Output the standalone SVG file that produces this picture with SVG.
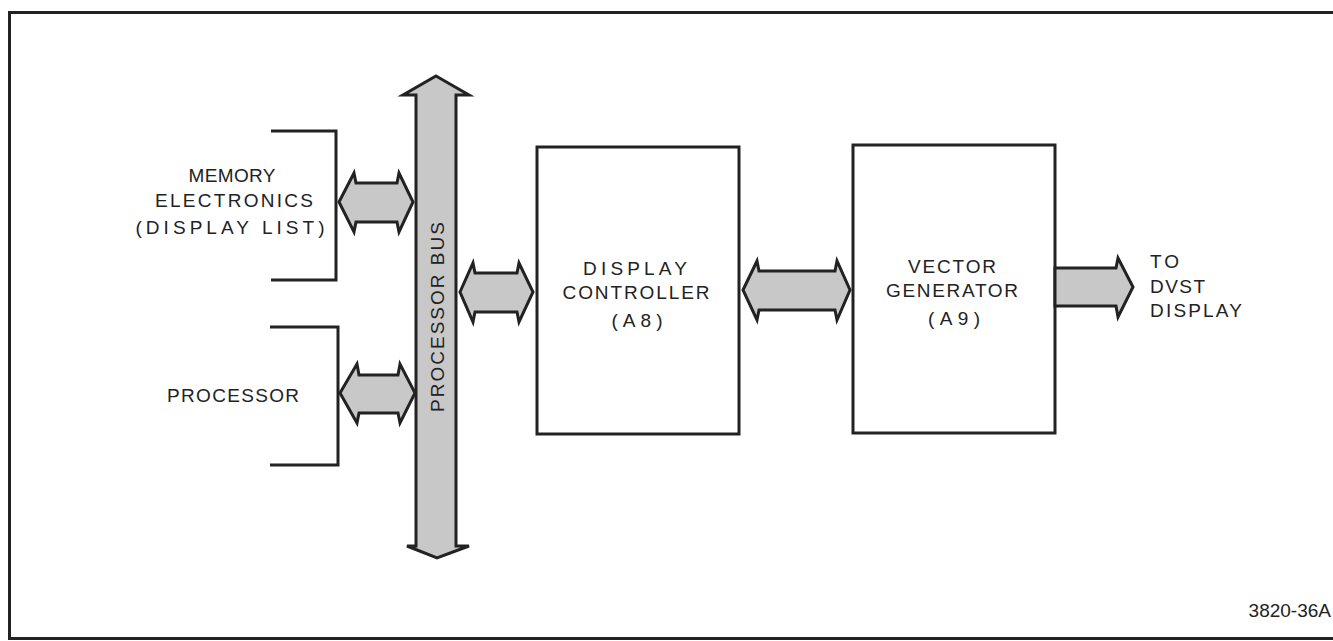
<svg xmlns="http://www.w3.org/2000/svg" width="1333" height="641" viewBox="0 0 1333 641">
<style>
.ln{fill:none;stroke:#222;stroke-width:3;stroke-linejoin:miter}
.box{fill:#fff;stroke:#222;stroke-width:3}
.ar{fill:#c8c8c8;stroke:#222;stroke-width:3;stroke-linejoin:miter}
.t{font-family:"Liberation Sans",Arial,sans-serif;font-size:19px;fill:#222}
.h{font-family:"Liberation Sans",Arial,sans-serif;font-size:19px;fill:#222}
.m{text-anchor:middle}
</style>
<rect x="9.5" y="12.5" width="1340" height="626" class="ln"/>
<g id="memory">
<polyline class="ln" points="271,131 336,131 336,280 271,280"/>
<text class="t m" x="232" y="182" textLength="87" lengthAdjust="spacing">MEMORY</text>
<text class="t m" x="234" y="207" textLength="158" lengthAdjust="spacing">ELECTRONICS</text>
<text class="t m" x="230" y="234" textLength="189" lengthAdjust="spacing">(DISPLAY LIST)</text>
</g>
<g id="processor">
<polyline class="ln" points="270,327 338,327 338,465 270,465"/>
<text class="h m" x="233" y="402" textLength="132" lengthAdjust="spacing">PROCESSOR</text>
</g>
<g id="bus">
<polygon class="ar" points="436,76 469,95 456,95 456,546 469,546 437,558 407,546 416,546 416,95 403,95"/>
<text class="h m" transform="translate(444,317) rotate(-90)" textLength="190" lengthAdjust="spacing">PROCESSOR BUS</text>
</g>
<g id="display-controller">
<rect class="box" x="537" y="147" width="202" height="287"/>
<text class="t m" x="635" y="275" textLength="104" lengthAdjust="spacing">DISPLAY</text>
<text class="t m" x="636" y="299" textLength="147" lengthAdjust="spacing">CONTROLLER</text>
<text class="t m" x="637" y="327" textLength="51" lengthAdjust="spacing">(A8)</text>
</g>
<g id="vector-generator">
<rect class="box" x="853" y="145" width="202" height="288"/>
<text class="t m" x="952" y="273" textLength="88" lengthAdjust="spacing">VECTOR</text>
<text class="t m" x="952" y="297" textLength="132" lengthAdjust="spacing">GENERATOR</text>
<text class="t m" x="954" y="325" textLength="52" lengthAdjust="spacing">(A9)</text>
</g>
<g id="dvst">
<text class="h" x="1150" y="268" textLength="29" lengthAdjust="spacing">TO</text>
<text class="h" x="1150" y="293" textLength="55" lengthAdjust="spacing">DVST</text>
<text class="h" x="1150" y="317" textLength="92" lengthAdjust="spacing">DISPLAY</text>
</g>
<g id="connectors">
<polygon class="ar" points="339,202 354,173 356,183 397,183 399,173 413,202 399,232 397,222 356,222 354,232"/>
<polygon class="ar" points="340,393 357,364 359,375 398,375 400,364 415,393 400,423 398,413 359,413 357,423"/>
<polygon class="ar" points="460,292 473,263 475,273 517,273 519,263 533,292 519,322 517,312 475,312 473,322"/>
<polygon class="ar" points="743,290 757,261 759,271 835,271 837,261 850,290 837,320 835,310 759,310 757,320"/>
<polygon class="ar" points="1055,268 1116,268 1118,258 1133,287 1118,317 1116,306 1055,306"/>
</g>
<text class="h" x="1331" y="617" text-anchor="end" font-size="14">3820-36A</text>
</svg>
